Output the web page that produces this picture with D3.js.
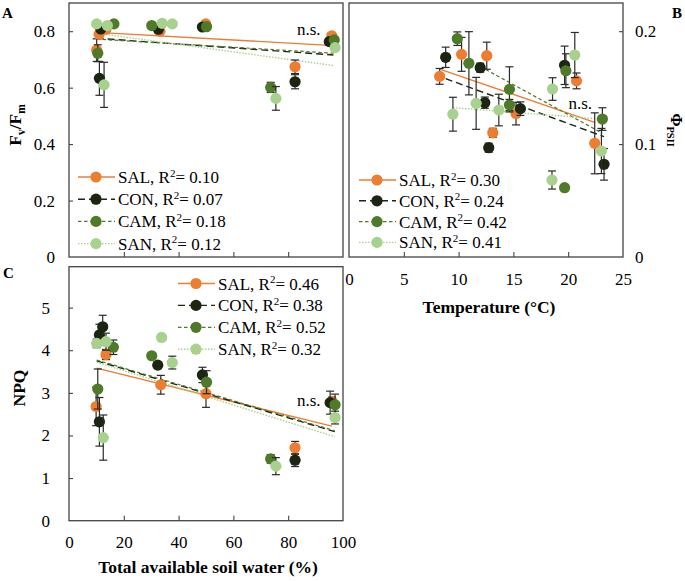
<!DOCTYPE html>
<html><head><meta charset="utf-8">
<script src="https://cdn.jsdelivr.net/npm/d3@7"></script>
<style>
body{margin:0;background:#fff}
text{font-family:"Liberation Serif","Times New Roman",serif;fill:#000}
</style>
</head><body>
<svg id="chart" width="685" height="581"></svg>
<script>
// ---------- data ----------
const seriesNames = ["SAL", "CON", "CAM", "SAN"];
const seriesColors = ["#ED7D31", "#1B2512", "#4E7A2A", "#A9D18E"];

// Panel A: Fv/Fm vs total available soil water (%)
const A_SAL_x = [10.1, 11.0, 13.5, 33.2, 49.9, 82.5, 95.9];
const A_SAL_y = [0.733, 0.789, 0.807, 0.800, 0.826, 0.674, 0.784];
const A_SAL_e = [0.040, 0.010, 0.006, 0.006, 0.006, 0.024, 0.010];
const A_CON_x = [11.1, 11.6, 32.6, 48.7, 82.5, 95.0];
const A_CON_y = [0.633, 0.808, 0.807, 0.815, 0.621, 0.763];
const A_CON_e = [0.060, 0.010, 0.006, 0.006, 0.025, 0.012];
const A_CAM_x = [10.5, 16.4, 30.2, 50.2, 73.6, 96.8];
const A_CAM_y = [0.722, 0.826, 0.820, 0.816, 0.601, 0.769];
const A_CAM_e = [0.030, 0.005, 0.005, 0.005, 0.018, 0.010];
const A_SAN_x = [10.1, 12.8, 14.0, 34.0, 37.7, 75.5, 97.1];
const A_SAN_y = [0.826, 0.610, 0.820, 0.828, 0.826, 0.562, 0.742];
const A_SAN_e = [0.005, 0.080, 0.005, 0.005, 0.005, 0.042, 0.010];
const A_trend_x = [[10.1, 96.5], [10.1, 96.5], [10.1, 96.8], [10.1, 96.8]];
const A_trend_y = [[0.796, 0.749], [0.775, 0.716], [0.772, 0.722], [0.793, 0.678]];
const A_r2 = ["0.10", "0.07", "0.18", "0.12"];

// Panel B: PhiPSII vs temperature (°C)
const B_SAL_x = [8.27, 10.27, 12.57, 13.12, 15.24, 20.76, 22.42];
const B_SAL_y = [0.160, 0.1795, 0.1783, 0.110, 0.127, 0.156, 0.1007];
const B_SAL_e = [0.007, 0.015, 0.012, 0.004, 0.010, 0.007, 0.027];
const B_CON_x = [8.82, 11.97, 12.39, 12.75, 15.64, 19.67, 23.27];
const B_CON_y = [0.1769, 0.1677, 0.1367, 0.0968, 0.1314, 0.1698, 0.0821];
const B_CON_e = [0.009, 0.004, 0.005, 0.004, 0.006, 0.017, 0.014];
const B_CAM_x = [9.88, 10.94, 14.64, 14.64, 19.79, 19.67, 23.12];
const B_CAM_y = [0.1934, 0.1716, 0.1485, 0.1346, 0.165, 0.0614, 0.1222];
const B_CAM_e = [0.006, 0.028, 0.020, 0.005, 0.015, 0.002, 0.010];
const B_SAN_x = [9.48, 11.60, 13.67, 18.52, 18.57, 20.60, 23.03];
const B_SAN_y = [0.1265, 0.1361, 0.1302, 0.0682, 0.1488, 0.1789, 0.0939];
const B_SAN_e = [0.015, 0.023, 0.014, 0.008, 0.010, 0.020, 0.020];
const B_trend_x = [[8.27, 22.42], [8.82, 23.27], [12.0, 23.12], [9.48, 23.03]];
const B_trend_y = [[0.1665, 0.1193], [0.158, 0.1066], [0.1686, 0.1096], [0.1323, 0.1222]];
const B_r2 = ["0.30", "0.24", "0.42", "0.41"];

// Panel C: NPQ vs total available soil water (%)
const C_SAL_x = [9.9, 13.5, 33.5, 50.0, 82.5, 96.0];
const C_SAL_y = [2.68, 3.90, 3.19, 2.98, 1.71, 2.80];
const C_SAL_e = [0.45, 0.12, 0.22, 0.32, 0.15, 0.10];
const C_CON_x = [11.1, 12.3, 11.1, 32.4, 48.7, 82.5, 95.3];
const C_CON_y = [4.36, 4.55, 2.32, 3.65, 3.42, 1.42, 2.77];
const C_CON_e = [0.25, 0.27, 0.57, 0.08, 0.18, 0.15, 0.27];
const C_CAM_x = [10.5, 16.2, 30.2, 50.2, 73.6, 97.1];
const C_CAM_y = [3.09, 4.07, 3.87, 3.25, 1.45, 2.72];
const C_CAM_e = [0.47, 0.17, 0.05, 0.27, 0.10, 0.25];
const C_SAN_x = [10.1, 13.5, 12.5, 33.8, 37.7, 75.5, 97.1];
const C_SAN_y = [4.16, 4.20, 1.95, 4.30, 3.71, 1.28, 2.42];
const C_SAN_e = [0.10, 0.20, 0.53, 0.04, 0.15, 0.20, 0.15];
const C_trend_x = [[10.1, 95.9], [10.1, 97.0], [10.1, 97.0], [10.1, 97.0]];
const C_trend_y = [[3.58, 2.22], [3.75, 2.09], [3.77, 2.11], [3.72, 1.97]];
const C_r2 = ["0.46", "0.38", "0.52", "0.32"];

const xTicksTASW = [0, 20, 40, 60, 80, 100];
const xTicksTemp = [0, 5, 10, 15, 20, 25];
const yTicksA = [0, 0.2, 0.4, 0.6, 0.8];
const yTicksB = [0, 0.1, 0.2];
const yTicksC = [0, 1, 2, 3, 4, 5];

// ---------- drawing ----------
const svg = d3.select("#chart");
const dashes = [null, "7,4", "3.5,2.5", "1.5,1.5"];
const widths = [1.4, 1.4, 1.2, 1.4];
const FONT = 17;

function pack(xs, ys, es) { return xs.map((x, i) => ({x: x, y: ys[i], e: es[i]})); }

function drawPanel(cfg) {
  const g = svg.append("g");
  const x = d3.scaleLinear().domain(cfg.xDomain).range([cfg.x0, cfg.x1]);
  const y = d3.scaleLinear().domain(cfg.yDomain).range([cfg.y1, cfg.y0]);

  // x axis
  const xa = d3.axisBottom(x).tickValues(cfg.xTicks).tickSize(-5).tickPadding(cfg.xPad)
    .tickFormat(cfg.xLabels ? d3.format("d") : "");
  const xg = g.append("g").attr("transform", `translate(0,${cfg.y1})`).call(xa);
  xg.select(".domain").remove();
  xg.selectAll(".tick line").attr("stroke", "#333")
    .attr("opacity", d => (d === cfg.xDomain[0] || d === cfg.xDomain[1]) ? 0 : 1);
  xg.selectAll("text").attr("font-size", FONT).attr("font-family", "Liberation Serif");

  // y axis
  const ya = (cfg.yRight ? d3.axisRight(y) : d3.axisLeft(y)).tickValues(cfg.yTicks)
    .tickSize(-4).tickPadding(cfg.yPad).tickFormat(cfg.yFmt);
  const yg = g.append("g").attr("transform", `translate(${cfg.yRight ? cfg.x1 : cfg.x0},0)`).call(ya);
  yg.select(".domain").remove();
  yg.selectAll(".tick line").attr("stroke", "#333").attr("opacity", d => d === 0 ? 0 : 1);
  yg.selectAll("text").attr("font-size", FONT).attr("font-family", "Liberation Serif");

  // frame
  g.append("rect").attr("x", cfg.x0).attr("y", cfg.y0)
    .attr("width", cfg.x1 - cfg.x0).attr("height", cfg.y1 - cfg.y0)
    .attr("fill", "none").attr("stroke", "#444").attr("stroke-width", 1.3);

  // trend lines
  cfg.trendX.forEach((tx, i) => {
    g.append("line")
      .attr("x1", x(tx[0])).attr("x2", x(tx[1]))
      .attr("y1", y(cfg.trendY[i][0])).attr("y2", y(cfg.trendY[i][1]))
      .attr("stroke", seriesColors[i]).attr("stroke-width", widths[i])
      .attr("stroke-dasharray", dashes[i]);
  });

  // points with error bars
  cfg.series.forEach((pts, i) => {
    const sg = g.append("g");
    pts.forEach(p => {
      const eb = sg.append("g").attr("stroke", "#2a2a2a").attr("stroke-width", 1.2);
      eb.append("line").attr("x1", x(p.x)).attr("x2", x(p.x)).attr("y1", y(p.y - p.e)).attr("y2", y(p.y + p.e));
      eb.append("line").attr("x1", x(p.x) - 4).attr("x2", x(p.x) + 4).attr("y1", y(p.y - p.e)).attr("y2", y(p.y - p.e));
      eb.append("line").attr("x1", x(p.x) - 4).attr("x2", x(p.x) + 4).attr("y1", y(p.y + p.e)).attr("y2", y(p.y + p.e));
    });
    sg.selectAll("circle").data(pts).join("circle")
      .attr("cx", d => x(d.x)).attr("cy", d => y(d.y)).attr("r", 5.6)
      .attr("fill", seriesColors[i]);
  });

  // legend
  seriesNames.forEach((n, i) => {
    const ly = cfg.legY + i * cfg.legStep;
    g.append("line").attr("x1", cfg.legX).attr("x2", cfg.legX + 37).attr("y1", ly).attr("y2", ly)
      .attr("stroke", seriesColors[i]).attr("stroke-width", widths[i]).attr("stroke-dasharray", dashes[i]);
    g.append("circle").attr("cx", cfg.legX + 18).attr("cy", ly).attr("r", 5.6).attr("fill", seriesColors[i]);
    const t = g.append("text").attr("x", cfg.legX + 40).attr("y", ly + 6).attr("font-size", FONT);
    t.append("tspan").text(n + ", R");
    t.append("tspan").attr("font-size", 11).attr("dy", -6.5).text("2");
    t.append("tspan").attr("dy", 6.5).text("= " + cfg.r2[i]);
  });

  // n.s.
  g.append("text").attr("x", x(cfg.ns[0])).attr("y", y(cfg.ns[1]))
    .attr("font-size", FONT).attr("text-anchor", "middle").text("n.s.");
  return {x, y};
}

const fmt1 = d => d === 0 ? "0" : d3.format(".1f")(d);

drawPanel({
  x0: 69, x1: 343, y0: 3, y1: 257, xDomain: [0, 100], yDomain: [0, 0.9],
  xTicks: xTicksTASW, xLabels: false, xPad: 14, yTicks: yTicksA, yPad: 14, yFmt: fmt1,
  series: [pack(A_SAL_x, A_SAL_y, A_SAL_e), pack(A_CON_x, A_CON_y, A_CON_e),
           pack(A_CAM_x, A_CAM_y, A_CAM_e), pack(A_SAN_x, A_SAN_y, A_SAN_e)],
  trendX: A_trend_x, trendY: A_trend_y, r2: A_r2,
  legX: 78, legY: 177, legStep: 22.2, ns: [87.5, 0.785]
});

drawPanel({
  x0: 349, x1: 623, y0: 3, y1: 257, xDomain: [0, 25], yDomain: [0, 0.225], yRight: true,
  xTicks: xTicksTemp, xLabels: true, xPad: 16, yTicks: yTicksB, yPad: 12, yFmt: fmt1,
  series: [pack(B_SAL_x, B_SAL_y, B_SAL_e), pack(B_CON_x, B_CON_y, B_CON_e),
           pack(B_CAM_x, B_CAM_y, B_CAM_e), pack(B_SAN_x, B_SAN_y, B_SAN_e)],
  trendX: B_trend_x, trendY: B_trend_y, r2: B_r2,
  legX: 359, legY: 180, legStep: 20.8, ns: [21.1, 0.1315]
});

drawPanel({
  x0: 69, x1: 343, y0: 266.7, y1: 520.7, xDomain: [0, 100], yDomain: [0, 5.96],
  xTicks: xTicksTASW, xLabels: true, xPad: 15, yTicks: yTicksC, yPad: 19, yFmt: d3.format("d"),
  series: [pack(C_SAL_x, C_SAL_y, C_SAL_e), pack(C_CON_x, C_CON_y, C_CON_e),
           pack(C_CAM_x, C_CAM_y, C_CAM_e), pack(C_SAN_x, C_SAN_y, C_SAN_e)],
  trendX: C_trend_x, trendY: C_trend_y, r2: C_r2,
  legX: 178, legY: 283.5, legStep: 21.9, ns: [87.5, 2.7]
});

// axis titles
const t1 = svg.append("text").attr("transform", "translate(21,125) rotate(-90)")
  .attr("text-anchor", "middle").attr("font-size", 17.5).attr("font-weight", "bold");
t1.append("tspan").text("F");
t1.append("tspan").attr("font-size", 11.5).attr("dy", 4).text("v");
t1.append("tspan").attr("dy", -4).text("/F");
t1.append("tspan").attr("font-size", 11.5).attr("dy", 4).text("m");

svg.append("text").attr("transform", "translate(25,388) rotate(-90)")
  .attr("text-anchor", "middle").attr("font-size", 17.5).attr("font-weight", "bold").text("NPQ");

const t3 = svg.append("text").attr("transform", "translate(671,130) rotate(90)")
  .attr("text-anchor", "middle").attr("font-size", 16).attr("font-weight", "bold");
t3.append("tspan").text("Φ");
t3.append("tspan").attr("font-size", 10.5).attr("dy", 4).text("PSII");

svg.append("text").attr("x", 208).attr("y", 573).attr("text-anchor", "middle")
  .attr("font-size", 17.5).attr("font-weight", "bold").text("Total available soil water (%)");
svg.append("text").attr("x", 489).attr("y", 313).attr("text-anchor", "middle")
  .attr("font-size", 17.5).attr("font-weight", "bold").text("Temperature (°C)");

// panel letters
[["A", 2, 18], ["B", 672, 18], ["C", 3, 278]].forEach(p => {
  svg.append("text").attr("x", p[1]).attr("y", p[2]).attr("font-size", 15)
    .attr("font-weight", "bold").text(p[0]);
});
</script>
</body></html>
